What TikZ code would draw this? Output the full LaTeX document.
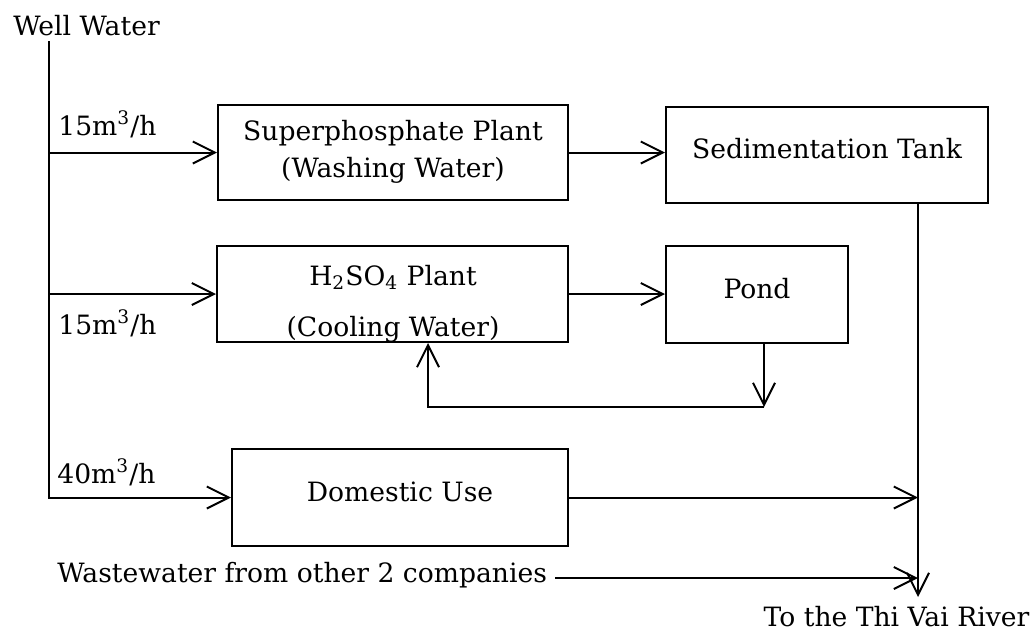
\documentclass[tikz,border=0pt]{standalone}
\usepackage{fontspec}
\setmainfont{DejaVu Serif}
\usetikzlibrary{arrows.meta}
\begin{document}
\begin{tikzpicture}[x=0.5pt,y=-0.5pt,
  txt/.style={inner sep=0pt,font=\fontsize{13.3}{18.5}\selectfont},
  box/.style={draw,line width=1pt,inner sep=0pt},
  flow/.style={line width=1pt,-{Straight Barb[length=11pt,width=11pt]}}]
\useasboundingbox (0,0) rectangle (1034,632);

% process boxes
\node[box,minimum width=175pt,minimum height=47.5pt] (sp)   at (393,152.5) {};
\node[box,minimum width=161pt,minimum height=48pt]   (sed)  at (827,155) {};
\node[box,minimum width=175.5pt,minimum height=48pt] (h2)   at (392.5,294) {};
\node[box,minimum width=91pt,minimum height=48.5pt]  (pond) at (757,294.5) {};
\node[box,minimum width=168pt,minimum height=48.5pt] (dom)  at (400,497.5) {};

% box captions (base anchor of a two-line caption sits on its last line)
\node[txt,anchor=base,align=center] (sp-t) at (393,177) {Superphosphate Plant\\(Washing Water)};
\node[txt,anchor=base] (sed-t) at (827,158) {Sedimentation Tank};
\node[txt,anchor=base,align=center] (h2-t) at (393,336) {H\textsubscript{2}SO\textsubscript{4} Plant\\[7pt](Cooling Water)};
\node[txt,anchor=base] (pond-t) at (757,298) {Pond};
\node[txt,anchor=base] (dom-t) at (400,501) {Domestic Use};

% free labels
\node[txt,anchor=base] (well) at (86.5,35) {Well Water};
\node[txt,anchor=base west] (q1) at (58,135) {15m\textsuperscript{3}/h};
\node[txt,anchor=base west] (q2) at (58,334) {15m\textsuperscript{3}/h};
\node[txt,anchor=base west] (q3) at (57,483) {40m\textsuperscript{3}/h};
\node[txt,anchor=base west] (ww) at (57,582) {Wastewater from other 2 companies};
\node[txt,anchor=base] (river) at (896.5,626) {To the Thi Vai River};

% routing points
\coordinate (top) at (49,41);
\coordinate (lp) at (764,407);
\coordinate (ll) at (428,407);
\coordinate (out) at (918,597);

% well water distribution
\draw[flow] (top) -- (dom.west -| top) -- (dom.west);
\draw[flow] (sp.west -| top) -- (sp.west);
\draw[flow] (h2.west -| top) -- (h2.west);

% process flows
\draw[flow] (sp.east) -- (sp.east -| sed.west);
\draw[flow] (h2.east) -- (h2.east -| pond.west);
\draw[flow] (pond.south -| lp) -- (lp);
\draw[flow] (lp) -- (ll) -- (ll |- h2.south);

% discharge to the river
\draw[flow] (sed.south -| out) -- (out);
\draw[flow] (dom.east) -- (dom.east -| out);
\draw[flow] ([xshift=4pt,yshift=2pt]ww.base east) -- ([yshift=2pt]ww.base east -| out);
\end{tikzpicture}
\end{document}
